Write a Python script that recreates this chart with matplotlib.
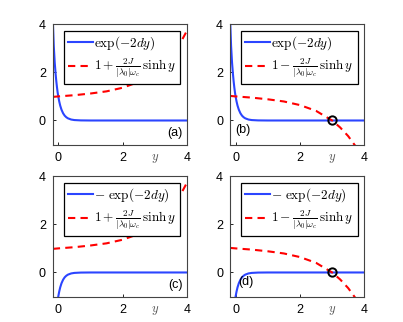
import matplotlib.pyplot as plt
import numpy as np

plt.rcParams['font.family'] = ['Liberation Sans', 'DejaVu Sans']
plt.rcParams['mathtext.fontset'] = 'cm'

# values
y_blue = [-0.17, -0.14, -0.11, -0.08, -0.06, -0.04, -0.02, 0.0, 0.03, 0.06, 0.1,
          0.15, 0.2, 0.25, 0.3, 0.4, 0.5, 0.7, 1.0, 2.0, 3.0, 4.0]
exp_vals = [4.2, 3.1, 2.4, 1.9, 1.62, 1.38, 1.17, 1.0, 0.79, 0.62, 0.45,
            0.3, 0.2, 0.135, 0.09, 0.04, 0.018, 0.004, 0.0, 0.0, 0.0, 0.0]

y_red = [-0.17, 0.0, 0.5, 1.0, 1.5, 2.0, 2.5, 3.0, 3.25, 3.5, 3.75, 4.0]
plus_vals = [0.98, 1.0, 1.05, 1.12, 1.21, 1.36, 1.6, 2.0, 2.29, 2.65, 3.11, 3.73]
minus_vals = [1.02, 1.0, 0.95, 0.88, 0.79, 0.64, 0.4, 0.0, -0.29, -0.65, -1.11, -1.73]

cross_y = 3.0   # where the dashed curve meets zero in (b) and (d)

lab_exp = r'$\exp(-2dy)$'
lab_mexp = r'$-\ \exp(-2dy)$'
lab_plus = r'$1+\frac{2J}{|\lambda_0|\omega_c}\,\sinh y$'
lab_minus = r'$1-\frac{2J}{|\lambda_0|\omega_c}\,\sinh y$'

panels = [
    # (position, sign of exp, dashed values, dashed label, solid label, tag, tag pos, align, circle)
    ([0.131, 0.551, 0.333, 0.374], 1, plus_vals, lab_plus, lab_exp, '(a)', (0.97, 0.05), 'right', False),
    ([0.571, 0.551, 0.333, 0.374], 1, minus_vals, lab_minus, lab_exp, '(b)', (0.04, 0.07), 'left', True),
    ([0.131, 0.079, 0.333, 0.374], -1, plus_vals, lab_plus, lab_mexp, '(c)', (0.97, 0.05), 'right', False),
    ([0.571, 0.079, 0.333, 0.374], -1, minus_vals, lab_minus, lab_mexp, '(d)', (0.06, 0.07), 'left', True),
]

fig = plt.figure(figsize=(4.03, 3.22), dpi=100)

for pos, sgn, dash_vals, dash_lab, solid_lab, tag, tagpos, ha, circ in panels:
    ax = fig.add_axes(pos)
    ax.plot(y_blue, np.array(exp_vals) * sgn, color='#2b45ff', lw=1.5, label=solid_lab)
    ax.plot(y_red, dash_vals, color='red', lw=1.5, ls=(0, (3.5, 2.5)), label=dash_lab)
    if circ:
        ax.plot([cross_y], [0], 'o', mfc='none', mec='black', mew=1.4, ms=6)
    ax.set_xlim(-0.17, 4)
    ax.set_ylim(-1, 4)
    ax.set_xticks([0, 2, 4])
    ax.set_yticks([0, 2, 4])
    ax.tick_params(direction='in', length=2, labelsize=9, pad=5, width=0.6)
    for s in ax.spines.values():
        s.set_linewidth(0.8)
        s.set_color('#444444')
    ax.text(3, -1.3, r'$y$', ha='center', va='top', fontsize=9, color='#555555')
    ax.text(tagpos[0], tagpos[1], tag, transform=ax.transAxes, ha=ha, va='bottom', fontsize=9)
    leg = ax.legend(loc='upper right', fontsize=9.5, fancybox=False, framealpha=1,
                    edgecolor='black', handlelength=1.9, handletextpad=0.1,
                    borderpad=0.3, labelspacing=0.35, borderaxespad=0.5)
    leg.get_frame().set_linewidth(0.9)

fig.savefig('out.png', dpi=100)
